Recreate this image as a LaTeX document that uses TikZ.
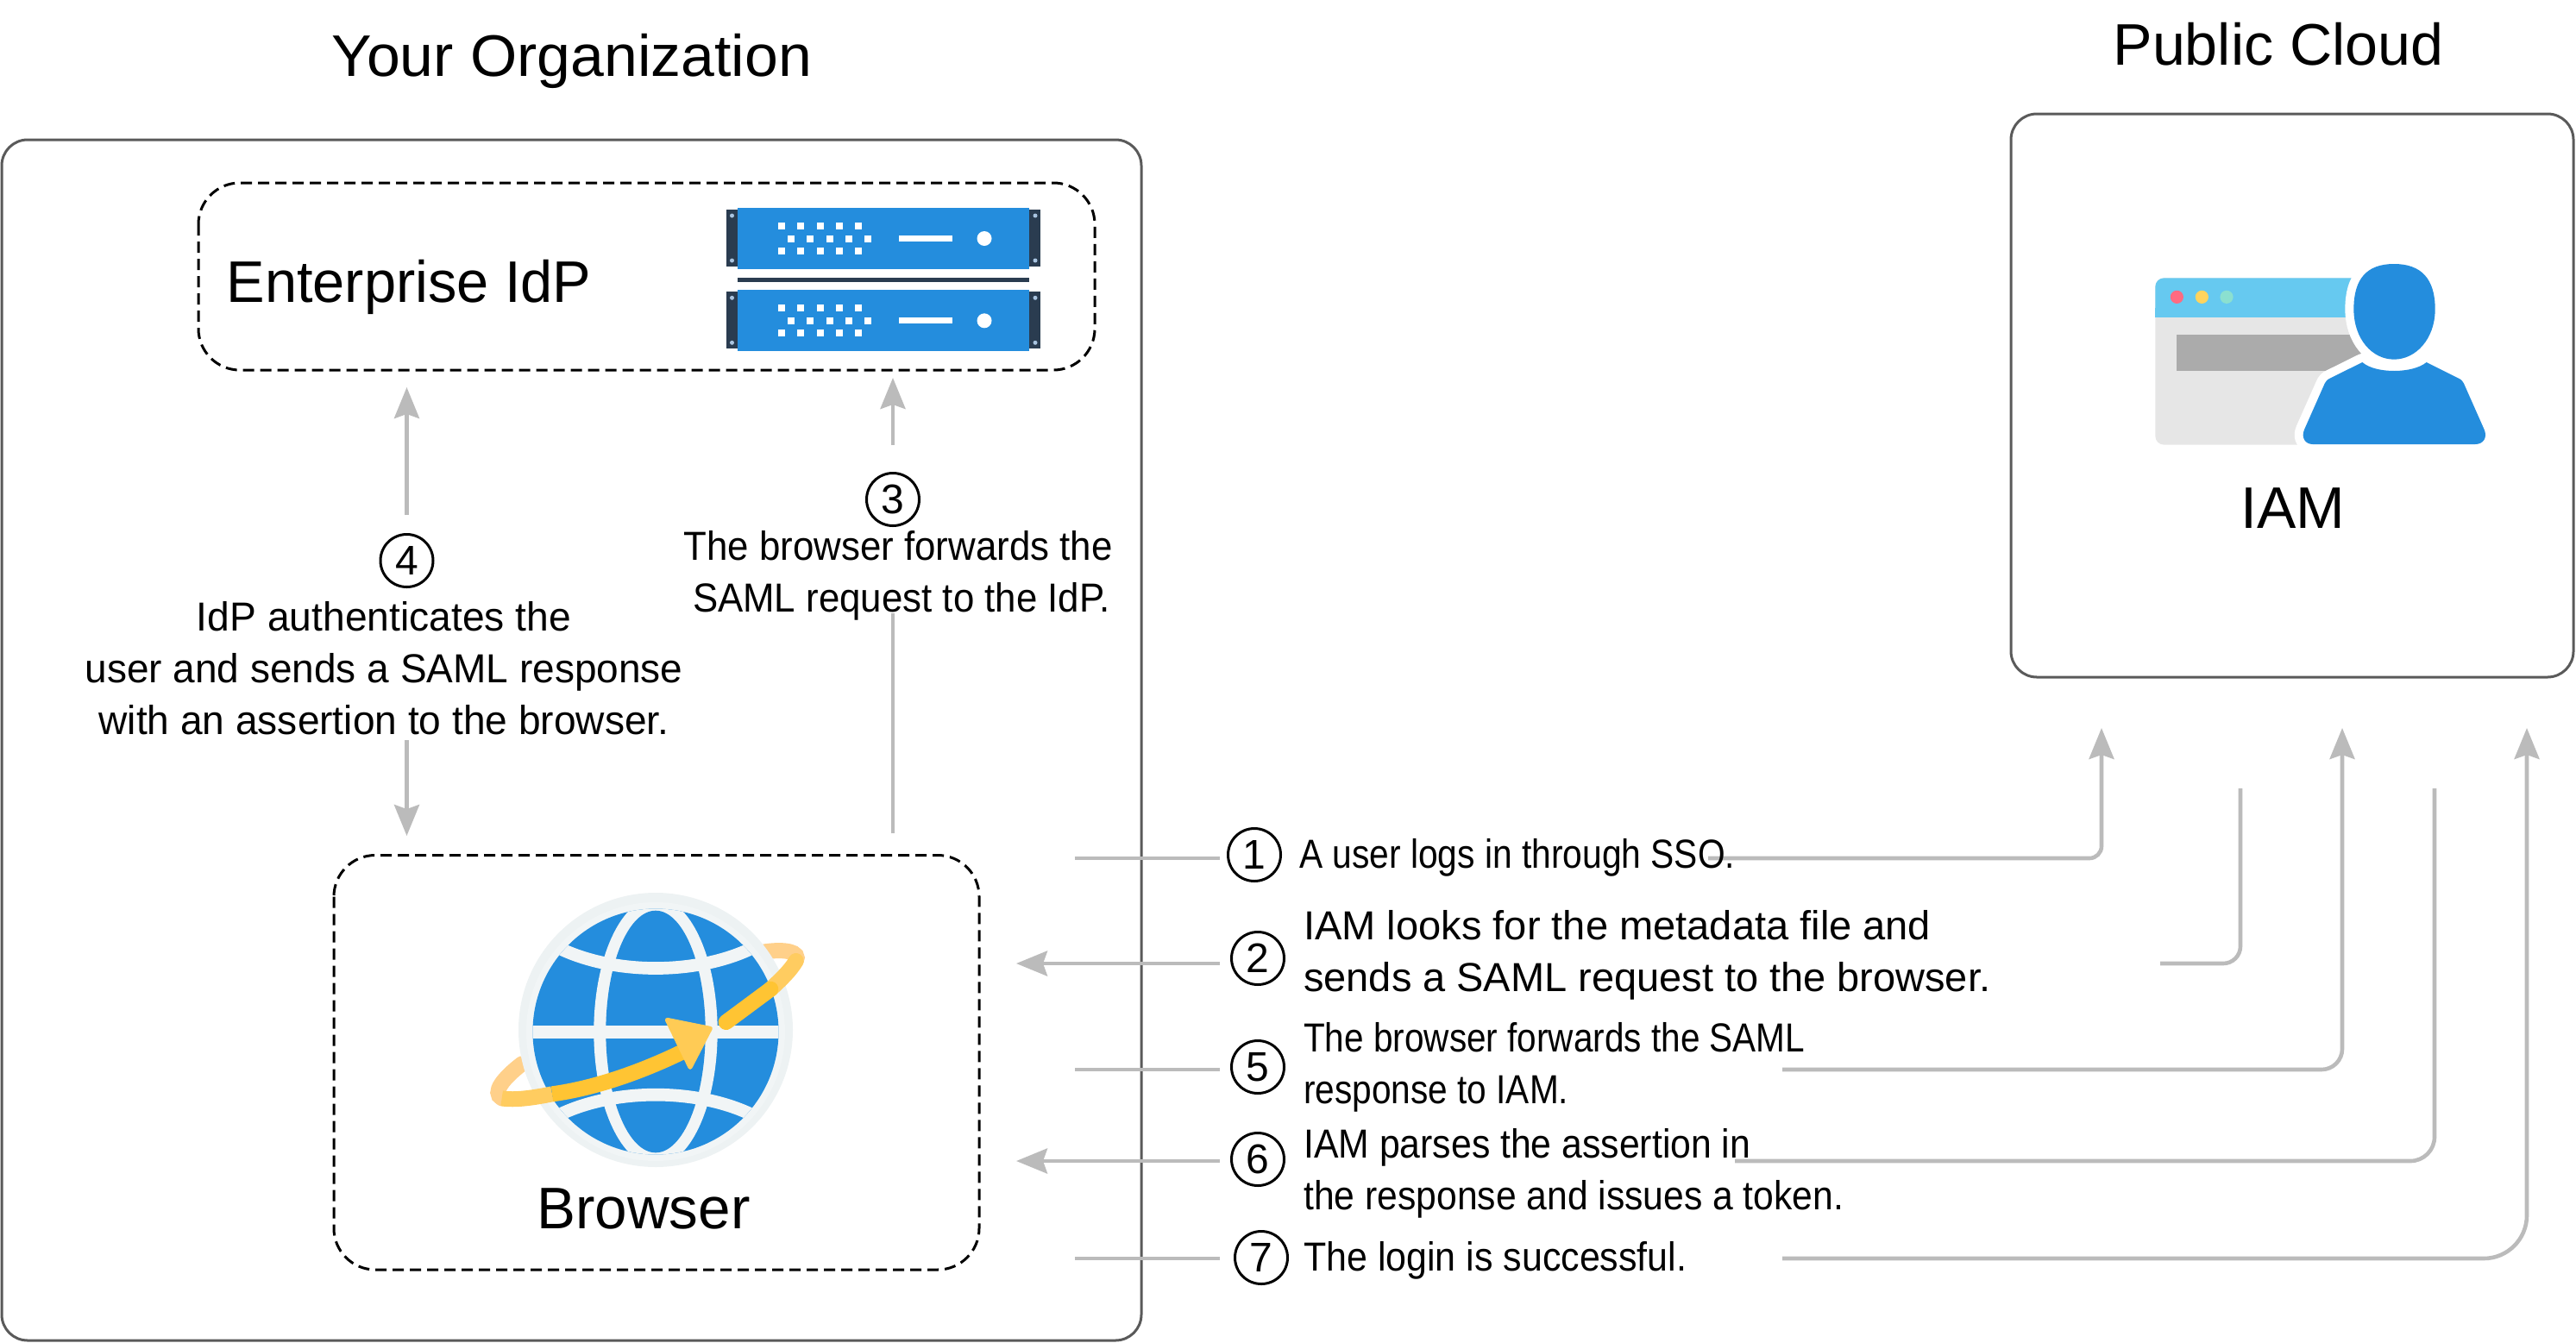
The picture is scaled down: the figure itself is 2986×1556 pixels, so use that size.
\documentclass[tikz,border=0pt]{standalone}
\usepackage{fontspec}
\usepackage{graphicx}
\usetikzlibrary{arrows.meta}
\setmainfont{Liberation Sans}
\definecolor{frame}{HTML}{5A5A5A}
\definecolor{link}{HTML}{BBBBBB}
\definecolor{iconblue}{HTML}{248DDD}
\definecolor{navy}{HTML}{2A3C50}
\definecolor{steel}{HTML}{A9C4E0}
\definecolor{globewhite}{HTML}{F1F5F6}
\definecolor{globeedge}{HTML}{EDF2F3}
\definecolor{orbitfront}{HTML}{FFC433}
\definecolor{orbitmid}{HTML}{FFCC60}
\definecolor{orbitback}{HTML}{FFD08A}
\definecolor{headfill}{HTML}{FFCB55}
\definecolor{winbar}{HTML}{66C9F0}
\definecolor{winbody}{HTML}{E6E6E6}
\definecolor{winslot}{HTML}{ABABAB}
\definecolor{dotred}{HTML}{FF6B81}
\definecolor{dotyellow}{HTML}{FFD45E}
\definecolor{dotteal}{HTML}{8BE0D0}
\newcommand{\fitw}[2]{\resizebox{#1pt}{\height}{#2}}
\tikzset{
  outerbox/.style={draw=frame,line width=3pt,rounded corners=30pt},
  dashbox/.style={draw=black,line width=3pt,dash pattern=on 13pt off 7pt,rounded corners=48pt},
  flow/.style={draw=link,line width=4.6pt,-{Stealth[length=36pt,width=29pt,inset=5pt]}},
  plainflow/.style={draw=link,line width=4.6pt},
  num/.style={circle,draw=black,line width=3pt,minimum size=61pt,inner sep=0pt,font=\fontsize{48}{48}\selectfont},
  heading/.style={inner sep=0pt,anchor=base,font=\fontsize{68}{68}\selectfont},
  para/.style={inner sep=0pt,font=\fontsize{47}{60}\selectfont,anchor=base west,align=left},
  parac/.style={inner sep=0pt,font=\fontsize{47}{60}\selectfont,anchor=base,align=center},
}
\begin{document}
\begin{tikzpicture}[x=1pt,y=-1pt]
\useasboundingbox (0,0) rectangle (2986,1556);
% frames
\draw[outerbox] (2,162) rectangle (1323,1554);
\draw[outerbox] (2331,132) rectangle (2983,785);
\draw[dashbox] (230,212) rectangle (1269,429);
\draw[dashbox] (387,991.5) rectangle (1135,1472);
% anchor coordinates
\coordinate (a1s) at (1980,995); \coordinate (a1c) at (2436,995); \coordinate (a1t) at (2436,844);
\coordinate (a2s) at (2597,914); \coordinate (a2c) at (2597,1117); \coordinate (a2e) at (2504,1117);
\coordinate (a5s) at (2066,1240); \coordinate (a5c) at (2715,1240); \coordinate (a5t) at (2715,844);
\coordinate (a6s) at (2822,914); \coordinate (a6c) at (2822,1346); \coordinate (a6e) at (2011,1346);
\coordinate (a7s) at (2066,1459); \coordinate (a7c) at (2929,1459); \coordinate (a7t) at (2929,844);
\coordinate (b1) at (1246,995); \coordinate (c1) at (1414,995);
\coordinate (b2) at (1178,1117); \coordinate (c2) at (1414,1117);
\coordinate (b5) at (1246,1240); \coordinate (c5) at (1414,1240);
\coordinate (b6) at (1178,1346); \coordinate (c6) at (1414,1346);
\coordinate (b7) at (1246,1459); \coordinate (c7) at (1414,1459);
\coordinate (u4a) at (471.5,597); \coordinate (u4b) at (471.5,449);
\coordinate (d4a) at (471.5,858); \coordinate (d4b) at (471.5,969);
\coordinate (u3a) at (1035,516); \coordinate (u3b) at (1035,438);
\coordinate (l3a) at (1035,966); \coordinate (l3b) at (1035,711);
% connectors
\draw[flow,rounded corners=14pt] (a1s) -- (a1c) -- (a1t);
\draw[plainflow,rounded corners=20pt] (a2s) -- (a2c) -- (a2e);
\draw[flow,rounded corners=24pt] (a5s) -- (a5c) -- (a5t);
\draw[plainflow,rounded corners=28pt] (a6s) -- (a6c) -- (a6e);
\draw[flow,rounded corners=50pt] (a7s) -- (a7c) -- (a7t);
\draw[plainflow] (b1) -- (c1);
\draw[flow] (c2) -- (b2);
\draw[plainflow] (b5) -- (c5);
\draw[flow] (c6) -- (b6);
\draw[plainflow] (b7) -- (c7);
\draw[flow] (u4a) -- (u4b);
\draw[flow] (d4a) -- (d4b);
\draw[flow] (u3a) -- (u3b);
\draw[plainflow] (l3a) -- (l3b);
% headings
\node[heading] (org) at (663,88) {\fitw{556}{Your Organization}};
\node[heading] (cloud) at (2641,75) {\fitw{383}{Public Cloud}};
\node[heading] (idp) at (474,350) {\fitw{423}{Enterprise IdP}};
\node[heading] (iam) at (2658,612) {IAM};
\node[heading] (browser) at (746,1424) {\fitw{247}{Browser}};
% numbered circles
\node[num] (n1) at (1454,991) {1};
\node[num] (n2) at (1458,1111) {2};
\node[num] (n3) at (1035,579) {3};
\node[num] (n4) at (471.5,650) {4};
\node[num] (n5) at (1458,1237) {5};
\node[num] (n6) at (1458,1344) {6};
\node[num] (n7) at (1462,1458) {7};
% step texts
\node[para] (t1) at (1506,1006) {\fitw{505}{A user logs in through SSO.}};
\node[para] (t2) at (1511,1149) {\fitw{727}{IAM looks for the metadata file and}\\\fitw{796}{sends a SAML request to the browser.}};
\node[para] (t5) at (1511,1279) {\fitw{581}{The browser forwards the SAML}\\\fitw{307}{response to IAM.}};
\node[para] (t6) at (1511,1402) {\fitw{518}{IAM parses the assertion in}\\\fitw{626}{the response and issues a token.}};
\node[para] (t7) at (1511,1473) {\fitw{444}{The login is successful.}};
\node[parac] (t3) at (1041,709) {\fitw{497}{The browser forwards the}\\\hspace*{8pt}\fitw{484}{SAML request to the IdP.}};
\node[parac] (t4) at (445,851) {\fitw{434}{IdP authenticates the}\\\fitw{693}{user and sends a SAML response}\\\fitw{661}{with an assertion to the browser.}};
% servers
\foreach \dy in {0,95.3}{
  \begin{scope}[yshift=-\dy pt]
    \fill[navy] (842,243) rectangle (855,309);
    \fill[navy] (1193,243) rectangle (1206,309);
    \fill[steel] (848.5,250) circle (2.5pt) (848.5,302) circle (2.5pt) (1200,250) circle (2.5pt) (1200,302) circle (2.5pt);
    \fill[iconblue] (855,241) rectangle (1193,312);
    \foreach \xx in {906,928.2,950.5,972.8,995}{
      \fill[white] (\xx-4,258) rectangle (\xx+4,266);
      \fill[white] (\xx-4,287) rectangle (\xx+4,295);
      \fill[white] (\xx+7,272.5) rectangle (\xx+15,280.5);
    }
    \fill[white] (1042,273) rectangle (1104,280);
    \fill[white] (1141,276.5) circle (8.5pt);
  \end{scope}
}
\fill[navy] (855,322) rectangle (1193,327);
% IAM icon
\begin{scope}[shift={(2460,280)},x=0.33333pt,y=-0.33333pt]
  \fill[winbody,rounded corners=10pt] (115,127) rectangle (950,707);
  \fill[winbar,rounded corners=10pt] (115,263) -- (115,127) -- (950,127) -- (950,263) -- cycle;
  \fill[winbar] (115,230) rectangle (950,263);
  \fill[winslot] (190,323) rectangle (950,450);
  \fill[dotred] (190,193) circle (7.6pt);
  \fill[dotyellow] (277,193) circle (7.6pt);
  \fill[dotteal] (363,193) circle (7.6pt);
  \path[fill=iconblue,draw=white,line width=20pt,line join=round]
    (835,420) .. controls (880,460) and (1010,460) .. (1058,420)
    -- (1170,476) .. controls (1180,481) and (1184,486) .. (1188,494)
    -- (1258,652) .. controls (1272,682) and (1255,705) .. (1228,705)
    -- (662,705) .. controls (637,705) and (620,682) .. (634,652)
    -- (704,494) .. controls (708,486) and (712,481) .. (722,476) -- cycle;
  \fill[iconblue]
    (835,420) .. controls (880,460) and (1010,460) .. (1058,420)
    -- (1170,476) .. controls (1180,481) and (1184,486) .. (1188,494)
    -- (1258,652) .. controls (1272,682) and (1255,705) .. (1228,705)
    -- (662,705) .. controls (637,705) and (620,682) .. (634,652)
    -- (704,494) .. controls (708,486) and (712,481) .. (722,476) -- cycle;
  \path[fill=iconblue,draw=white,line width=20pt]
    (945,78) .. controls (1040,78) and (1088,130) .. (1088,235)
    .. controls (1088,340) and (1020,410) .. (945,410)
    .. controls (870,410) and (805,340) .. (805,235)
    .. controls (805,130) and (850,78) .. (945,78) -- cycle;
  \fill[iconblue]
    (945,78) .. controls (1040,78) and (1088,130) .. (1088,235)
    .. controls (1088,340) and (1020,410) .. (945,410)
    .. controls (870,410) and (805,340) .. (805,235)
    .. controls (805,130) and (850,78) .. (945,78) -- cycle;
\end{scope}
% globe
\begin{scope}[shift={(540,1020)},x=0.33333pt,y=-0.33333pt]
  \draw[orbitback,line width=18pt,line cap=round] (1040,250) .. controls (1110,240) and (1165,250) .. (1148,282);
  \draw[orbitback,line width=18pt,line cap=round] (195,640) .. controls (130,690) and (90,740) .. (125,760);
  \fill[globeedge] (660,522) circle (159pt);
  \fill[globewhite] (660,528) circle (150pt);
  \fill[iconblue] (660,528) circle (142.5pt);
  \begin{scope}
    \clip (660,528) circle (142.5pt);
    \fill[globewhite] (660,528) ellipse (71.7pt and 155.3pt);
    \fill[iconblue] (660,528) ellipse (57.7pt and 140.3pt);
    \draw[globewhite,line width=14.7pt] (150,530) -- (1170,530);
    \draw[globewhite,line width=14.7pt] (300,225) .. controls (500,335) and (820,335) .. (1020,225);
    \draw[globewhite,line width=14.7pt] (300,830) .. controls (500,720) and (820,720) .. (1020,830);
  \end{scope}
  \draw[orbitmid,line width=18pt,line cap=round] (1060,380) .. controls (1090,352) and (1130,315) .. (1148,282);
  \draw[orbitfront,line width=18pt,line cap=round] (905,495) -- (1060,380);
  \draw[orbitmid,line width=18pt] (300,745) .. controls (240,757) and (170,768) .. (125,760);
  \draw[orbitfront,line width=18pt] (770,590) .. controls (620,665) and (450,725) .. (300,745);
  \fill[headfill,draw=headfill,line width=5pt,line join=round] (700,487) -- (850,517) -- (780,652) -- cycle;
\end{scope}
\end{tikzpicture}
\end{document}
